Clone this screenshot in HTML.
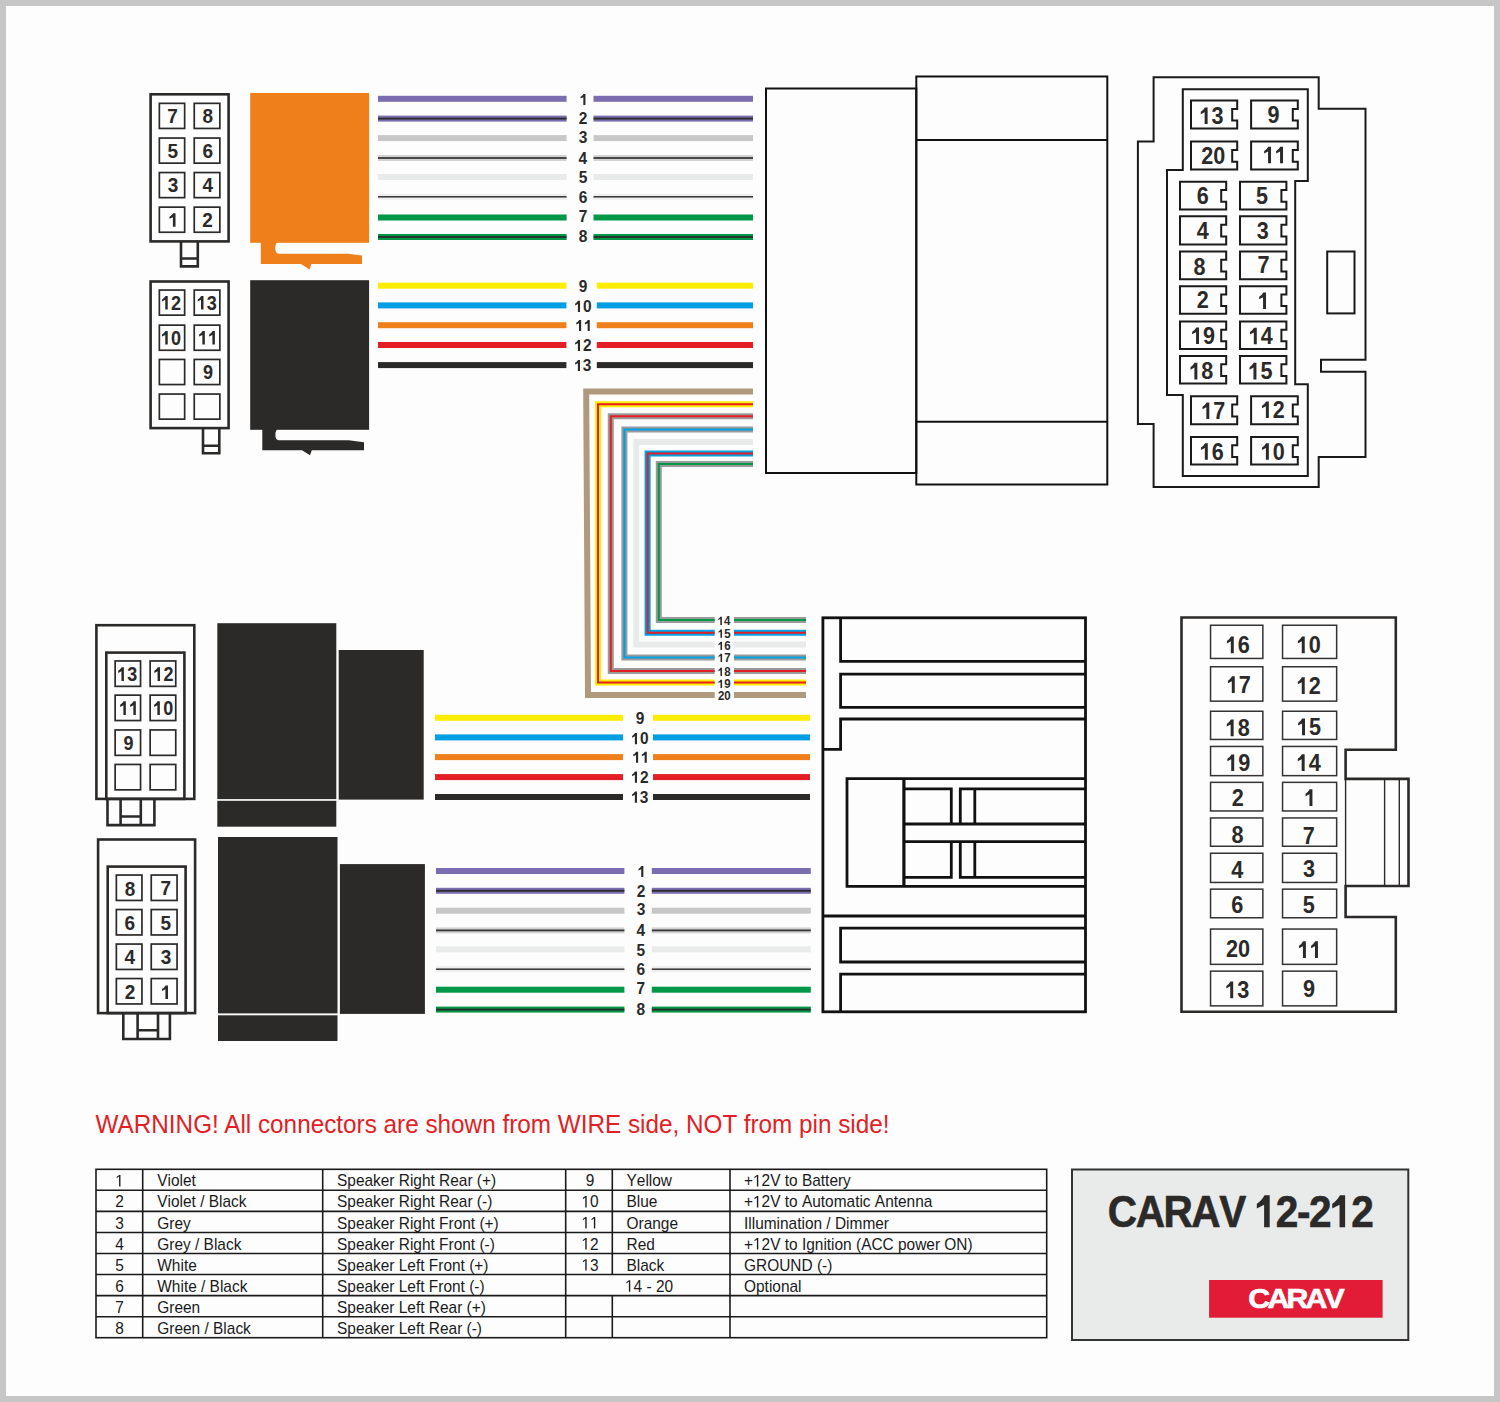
<!DOCTYPE html>
<html><head><meta charset="utf-8"><title>CARAV 12-212</title>
<style>html,body{margin:0;padding:0;background:#fff;}body{width:1500px;height:1402px;overflow:hidden;}</style>
</head><body>
<svg width="1500" height="1402" viewBox="0 0 1500 1402" style="display:block;font-family:'Liberation Sans', sans-serif">
<defs><path id="one" d="M478,0 L478,1040 L110,860 L110,1080 Q330,1190 500,1466 L759,1466 L759,0 Z"/><path id="one_b" d="M478,0 L478,1040 L110,860 L110,1080 Q330,1190 500,1466 L759,1466 L759,0 Z"/><path id="one_r" d="M515,0 V1287 L197,1051 V1228 L530,1466 H696 V0 Z"/></defs>
<rect x="0" y="0" width="1500" height="1402" fill="#c5c6c5"/>
<rect x="6" y="6" width="1488" height="1390" fill="#fdfdfd"/>
<rect x="150.60" y="94.30" width="78.00" height="147.10" fill="none" stroke="#2b2a29" stroke-width="2.6"/>
<rect x="159.35" y="103.35" width="25.30" height="25.10" fill="none" stroke="#2b2a29" stroke-width="1.7"/>
<rect x="194.25" y="103.35" width="25.60" height="25.10" fill="none" stroke="#2b2a29" stroke-width="1.7"/>
<rect x="159.35" y="138.05" width="25.30" height="25.10" fill="none" stroke="#2b2a29" stroke-width="1.7"/>
<rect x="194.25" y="138.05" width="25.60" height="25.10" fill="none" stroke="#2b2a29" stroke-width="1.7"/>
<rect x="159.35" y="172.55" width="25.30" height="25.10" fill="none" stroke="#2b2a29" stroke-width="1.7"/>
<rect x="194.25" y="172.55" width="25.60" height="25.10" fill="none" stroke="#2b2a29" stroke-width="1.7"/>
<rect x="159.35" y="207.15" width="25.30" height="25.10" fill="none" stroke="#2b2a29" stroke-width="1.7"/>
<rect x="194.25" y="207.15" width="25.60" height="25.10" fill="none" stroke="#2b2a29" stroke-width="1.7"/>
<text transform="translate(167.13,123.20) scale(1.000,1.0405)" font-size="19" font-weight="bold" fill="#2b2a29">7</text>
<text transform="translate(202.61,123.00) scale(1.000,1.0405)" font-size="19" font-weight="bold" fill="#2b2a29">8</text>
<text transform="translate(167.59,157.90) scale(1.000,1.0405)" font-size="19" font-weight="bold" fill="#2b2a29">5</text>
<text transform="translate(202.61,157.90) scale(1.000,1.0405)" font-size="19" font-weight="bold" fill="#2b2a29">6</text>
<text transform="translate(167.74,192.20) scale(1.000,1.0405)" font-size="19" font-weight="bold" fill="#2b2a29">3</text>
<text transform="translate(202.42,191.90) scale(1.000,1.0405)" font-size="19" font-weight="bold" fill="#2b2a29">4</text>
<use href="#one" transform="translate(168.47,226.80) scale(0.00928,-0.00928)" fill="#2b2a29"/>
<text transform="translate(202.37,226.80) scale(1.000,1.0405)" font-size="19" font-weight="bold" fill="#2b2a29">2</text>
<path d="M181,241.5 V266.4 H197.8 V241.5 M181,258.5 H197.8" fill="none" stroke="#2b2a29" stroke-width="2.6"/>
<rect x="150.60" y="281.50" width="78.00" height="146.60" fill="none" stroke="#2b2a29" stroke-width="2.6"/>
<rect x="159.35" y="290.05" width="25.30" height="25.10" fill="none" stroke="#2b2a29" stroke-width="1.7"/>
<rect x="194.25" y="290.05" width="25.60" height="25.10" fill="none" stroke="#2b2a29" stroke-width="1.7"/>
<rect x="159.35" y="325.15" width="25.30" height="25.10" fill="none" stroke="#2b2a29" stroke-width="1.7"/>
<rect x="194.25" y="325.15" width="25.60" height="25.10" fill="none" stroke="#2b2a29" stroke-width="1.7"/>
<rect x="159.35" y="359.45" width="25.30" height="25.10" fill="none" stroke="#2b2a29" stroke-width="1.7"/>
<rect x="194.25" y="359.45" width="25.60" height="25.10" fill="none" stroke="#2b2a29" stroke-width="1.7"/>
<rect x="159.35" y="394.05" width="25.30" height="25.10" fill="none" stroke="#2b2a29" stroke-width="1.7"/>
<rect x="194.25" y="394.05" width="25.60" height="25.10" fill="none" stroke="#2b2a29" stroke-width="1.7"/>
<use href="#one" transform="translate(161.04,309.50) scale(0.00881,-0.00928)" fill="#2b2a29"/>
<text transform="translate(171.08,309.50) scale(0.950,1.0405)" font-size="19" font-weight="bold" fill="#2b2a29">2</text>
<use href="#one" transform="translate(196.80,309.50) scale(0.00881,-0.00928)" fill="#2b2a29"/>
<text transform="translate(206.84,309.50) scale(0.950,1.0405)" font-size="19" font-weight="bold" fill="#2b2a29">3</text>
<use href="#one" transform="translate(161.05,344.60) scale(0.00881,-0.00928)" fill="#2b2a29"/>
<text transform="translate(171.09,344.60) scale(0.950,1.0405)" font-size="19" font-weight="bold" fill="#2b2a29">0</text>
<use href="#one" transform="translate(198.15,344.60) scale(0.00881,-0.00928)" fill="#2b2a29"/>
<use href="#one" transform="translate(208.19,344.60) scale(0.00881,-0.00928)" fill="#2b2a29"/>
<text transform="translate(203.00,378.80) scale(0.950,1.0405)" font-size="19" font-weight="bold" fill="#2b2a29">9</text>
<path d="M203,428.2 V453.2 H219.3 V428.2 M203,445.8 H219.3" fill="none" stroke="#2b2a29" stroke-width="2.6"/>
<rect x="96.40" y="625.20" width="97.90" height="173.70" fill="none" stroke="#2b2a29" stroke-width="2.6"/>
<rect x="106.30" y="652.60" width="78.10" height="146.30" fill="none" stroke="#2b2a29" stroke-width="2.6"/>
<rect x="115.15" y="660.95" width="25.40" height="25.40" fill="none" stroke="#2b2a29" stroke-width="1.7"/>
<rect x="150.15" y="660.95" width="25.60" height="25.40" fill="none" stroke="#2b2a29" stroke-width="1.7"/>
<rect x="115.15" y="695.15" width="25.40" height="25.40" fill="none" stroke="#2b2a29" stroke-width="1.7"/>
<rect x="150.15" y="695.15" width="25.60" height="25.40" fill="none" stroke="#2b2a29" stroke-width="1.7"/>
<rect x="115.15" y="729.95" width="25.40" height="25.40" fill="none" stroke="#2b2a29" stroke-width="1.7"/>
<rect x="150.15" y="729.95" width="25.60" height="25.40" fill="none" stroke="#2b2a29" stroke-width="1.7"/>
<rect x="115.15" y="764.45" width="25.40" height="25.40" fill="none" stroke="#2b2a29" stroke-width="1.7"/>
<rect x="150.15" y="764.45" width="25.60" height="25.40" fill="none" stroke="#2b2a29" stroke-width="1.7"/>
<use href="#one" transform="translate(117.26,681.00) scale(0.00876,-0.00942)" fill="#2b2a29"/>
<text transform="translate(127.24,681.00) scale(0.930,1.0405)" font-size="19.3" font-weight="bold" fill="#2b2a29">3</text>
<use href="#one" transform="translate(153.39,681.00) scale(0.00876,-0.00942)" fill="#2b2a29"/>
<text transform="translate(163.38,681.00) scale(0.930,1.0405)" font-size="19.3" font-weight="bold" fill="#2b2a29">2</text>
<use href="#one" transform="translate(119.20,715.00) scale(0.00876,-0.00942)" fill="#2b2a29"/>
<use href="#one" transform="translate(129.18,715.00) scale(0.00876,-0.00942)" fill="#2b2a29"/>
<use href="#one" transform="translate(153.20,715.00) scale(0.00876,-0.00942)" fill="#2b2a29"/>
<text transform="translate(163.19,715.00) scale(0.930,1.0405)" font-size="19.3" font-weight="bold" fill="#2b2a29">0</text>
<text transform="translate(123.53,750.00) scale(0.930,1.0405)" font-size="19.3" font-weight="bold" fill="#2b2a29">9</text>
<path d="M107.5,798.7 V825.1 H154.4 V798.7 M120.6,798.7 V825.1 M140.8,798.7 V825.1 M120.6,816.5 H140.8" fill="none" stroke="#2b2a29" stroke-width="2.6"/>
<rect x="98.10" y="839.50" width="97.00" height="173.60" fill="none" stroke="#2b2a29" stroke-width="2.6"/>
<rect x="107.70" y="866.60" width="77.90" height="146.50" fill="none" stroke="#2b2a29" stroke-width="2.6"/>
<rect x="116.35" y="875.05" width="25.60" height="25.40" fill="none" stroke="#2b2a29" stroke-width="1.7"/>
<rect x="151.25" y="875.05" width="25.80" height="25.40" fill="none" stroke="#2b2a29" stroke-width="1.7"/>
<rect x="116.35" y="909.55" width="25.60" height="25.40" fill="none" stroke="#2b2a29" stroke-width="1.7"/>
<rect x="151.25" y="909.55" width="25.80" height="25.40" fill="none" stroke="#2b2a29" stroke-width="1.7"/>
<rect x="116.35" y="944.05" width="25.60" height="25.40" fill="none" stroke="#2b2a29" stroke-width="1.7"/>
<rect x="151.25" y="944.05" width="25.80" height="25.40" fill="none" stroke="#2b2a29" stroke-width="1.7"/>
<rect x="116.35" y="978.55" width="25.60" height="25.40" fill="none" stroke="#2b2a29" stroke-width="1.7"/>
<rect x="151.25" y="978.55" width="25.80" height="25.40" fill="none" stroke="#2b2a29" stroke-width="1.7"/>
<text transform="translate(124.71,896.30) scale(1.000,1.0405)" font-size="19" font-weight="bold" fill="#2b2a29">8</text>
<text transform="translate(160.53,895.00) scale(1.000,1.0405)" font-size="19" font-weight="bold" fill="#2b2a29">7</text>
<text transform="translate(124.61,930.20) scale(1.000,1.0405)" font-size="19" font-weight="bold" fill="#2b2a29">6</text>
<text transform="translate(160.49,930.20) scale(1.000,1.0405)" font-size="19" font-weight="bold" fill="#2b2a29">5</text>
<text transform="translate(124.62,963.90) scale(1.000,1.0405)" font-size="19" font-weight="bold" fill="#2b2a29">4</text>
<text transform="translate(160.64,964.20) scale(1.000,1.0405)" font-size="19" font-weight="bold" fill="#2b2a29">3</text>
<text transform="translate(124.77,999.00) scale(1.000,1.0405)" font-size="19" font-weight="bold" fill="#2b2a29">2</text>
<use href="#one" transform="translate(160.97,999.00) scale(0.00928,-0.00928)" fill="#2b2a29"/>
<path d="M123.3,1013 V1039 H169.9 V1013 M137.6,1013 V1039 M158,1013 V1039 M137.6,1030.2 H158" fill="none" stroke="#2b2a29" stroke-width="2.6"/>
<rect x="250.2" y="93" width="118.9" height="149.8" fill="#ee7f1b"/>
<path d="M260.8,242 L277,242 Q274.5,246 275.5,250.5 Q276.5,253.8 279,253.8 L348,253.8 L362,255.6 L362,264 L311.3,264 L309.6,269.4 L301,264 L260.8,264 Z" fill="#ee7f1b"/>
<rect x="250.2" y="280.2" width="118.9" height="149.6" fill="#2b2a29"/>
<path d="M262.3,429 L277,429 Q274.5,433 275.5,437 Q276.5,440.2 279,440.2 L348.7,440.2 L364,442.2 L364,450.2 L311.8,450.2 L310,455.3 L302,450.2 L262.3,450.2 Z" fill="#2b2a29"/>
<rect x="217.3" y="623.2" width="119" height="175.9" fill="#2b2a29"/>
<rect x="217.3" y="800.8" width="119" height="25.9" fill="#2b2a29"/>
<rect x="338.7" y="650" width="85" height="149.6" fill="#2b2a29"/>
<rect x="218" y="837" width="119.5" height="176.4" fill="#2b2a29"/>
<rect x="218" y="1015.3" width="119.5" height="25.7" fill="#2b2a29"/>
<rect x="339.9" y="864.1" width="85" height="149.8" fill="#2b2a29"/>
<rect x="378.00" y="95.80" width="188.60" height="6" fill="#7a6eb0"/>
<rect x="593.50" y="95.80" width="159.50" height="6" fill="#7a6eb0"/>
<use href="#one" transform="translate(579.71,105.00) scale(0.00757,-0.00757)" fill="#2b2a29"/>
<rect x="378.00" y="115.60" width="188.60" height="6" fill="#7a6eb0"/>
<rect x="378.00" y="117.70" width="188.60" height="1.8" fill="#2b2a29"/>
<rect x="593.50" y="115.60" width="159.50" height="6" fill="#7a6eb0"/>
<rect x="593.50" y="117.70" width="159.50" height="1.8" fill="#2b2a29"/>
<text transform="translate(578.73,124.10) scale(1.000,1.0405)" font-size="15.5" font-weight="bold" fill="#2b2a29">2</text>
<rect x="378.00" y="135.10" width="188.60" height="6" fill="#c6c7c6"/>
<rect x="593.50" y="135.10" width="159.50" height="6" fill="#c6c7c6"/>
<text transform="translate(578.79,143.10) scale(1.000,1.0405)" font-size="15.5" font-weight="bold" fill="#2b2a29">3</text>
<rect x="378.00" y="155.00" width="188.60" height="6" fill="#d2d3d2"/>
<rect x="378.00" y="157.10" width="188.60" height="1.8" fill="#383838"/>
<rect x="593.50" y="155.00" width="159.50" height="6" fill="#d2d3d2"/>
<rect x="593.50" y="157.10" width="159.50" height="1.8" fill="#383838"/>
<text transform="translate(578.61,164.10) scale(1.000,1.0405)" font-size="15.5" font-weight="bold" fill="#2b2a29">4</text>
<rect x="378.00" y="174.00" width="188.60" height="6" fill="#e9eaea"/>
<rect x="593.50" y="174.00" width="159.50" height="6" fill="#e9eaea"/>
<text transform="translate(578.67,183.10) scale(1.000,1.0405)" font-size="15.5" font-weight="bold" fill="#2b2a29">5</text>
<rect x="378.00" y="193.80" width="188.60" height="6" fill="#eeeeee"/>
<rect x="378.00" y="196.05" width="188.60" height="1.5" fill="#333"/>
<rect x="593.50" y="193.80" width="159.50" height="6" fill="#eeeeee"/>
<rect x="593.50" y="196.05" width="159.50" height="1.5" fill="#333"/>
<text transform="translate(578.69,203.10) scale(1.000,1.0405)" font-size="15.5" font-weight="bold" fill="#2b2a29">6</text>
<rect x="378.00" y="214.50" width="188.60" height="6" fill="#009846"/>
<rect x="593.50" y="214.50" width="159.50" height="6" fill="#009846"/>
<text transform="translate(578.70,222.10) scale(1.000,1.0405)" font-size="15.5" font-weight="bold" fill="#2b2a29">7</text>
<rect x="378.00" y="234.00" width="188.60" height="6" fill="#009846"/>
<rect x="378.00" y="236.10" width="188.60" height="1.8" fill="#2b2a29"/>
<rect x="593.50" y="234.00" width="159.50" height="6" fill="#009846"/>
<rect x="593.50" y="236.10" width="159.50" height="1.8" fill="#2b2a29"/>
<text transform="translate(578.68,242.00) scale(1.000,1.0405)" font-size="15.5" font-weight="bold" fill="#2b2a29">8</text>
<rect x="378.00" y="282.70" width="188.40" height="6" fill="#ffed00"/>
<rect x="596.80" y="282.70" width="156.20" height="6" fill="#ffed00"/>
<text transform="translate(578.71,291.60) scale(1.000,1.0405)" font-size="15.5" font-weight="bold" fill="#2b2a29">9</text>
<rect x="378.00" y="302.40" width="188.40" height="6" fill="#009fe3"/>
<rect x="596.80" y="302.40" width="156.20" height="6" fill="#009fe3"/>
<use href="#one" transform="translate(574.28,311.90) scale(0.00757,-0.00757)" fill="#2b2a29"/>
<text transform="translate(582.90,311.90) scale(1.000,1.0405)" font-size="15.5" font-weight="bold" fill="#2b2a29">0</text>
<rect x="378.00" y="322.20" width="188.40" height="6" fill="#ef7f1a"/>
<rect x="596.80" y="322.20" width="156.20" height="6" fill="#ef7f1a"/>
<use href="#one" transform="translate(575.40,331.00) scale(0.00757,-0.00757)" fill="#2b2a29"/>
<use href="#one" transform="translate(584.02,331.00) scale(0.00757,-0.00757)" fill="#2b2a29"/>
<rect x="378.00" y="342.00" width="188.40" height="6" fill="#e31e24"/>
<rect x="596.80" y="342.00" width="156.20" height="6" fill="#e31e24"/>
<use href="#one" transform="translate(574.27,351.00) scale(0.00757,-0.00757)" fill="#2b2a29"/>
<text transform="translate(582.89,351.00) scale(1.000,1.0405)" font-size="15.5" font-weight="bold" fill="#2b2a29">2</text>
<rect x="378.00" y="362.10" width="188.40" height="6" fill="#2b2a29"/>
<rect x="596.80" y="362.10" width="156.20" height="6" fill="#2b2a29"/>
<use href="#one" transform="translate(574.24,371.00) scale(0.00757,-0.00757)" fill="#2b2a29"/>
<text transform="translate(582.86,371.00) scale(1.000,1.0405)" font-size="15.5" font-weight="bold" fill="#2b2a29">3</text>
<rect x="435.00" y="714.80" width="188.00" height="6" fill="#ffed00"/>
<rect x="653.00" y="714.80" width="157.00" height="6" fill="#ffed00"/>
<text transform="translate(635.71,724.20) scale(1.000,1.0405)" font-size="15.5" font-weight="bold" fill="#2b2a29">9</text>
<rect x="435.00" y="734.40" width="188.00" height="6" fill="#009fe3"/>
<rect x="653.00" y="734.40" width="157.00" height="6" fill="#009fe3"/>
<use href="#one" transform="translate(631.28,744.20) scale(0.00757,-0.00757)" fill="#2b2a29"/>
<text transform="translate(639.90,744.20) scale(1.000,1.0405)" font-size="15.5" font-weight="bold" fill="#2b2a29">0</text>
<rect x="435.00" y="754.10" width="188.00" height="6" fill="#ef7f1a"/>
<rect x="653.00" y="754.10" width="157.00" height="6" fill="#ef7f1a"/>
<use href="#one" transform="translate(632.40,762.80) scale(0.00757,-0.00757)" fill="#2b2a29"/>
<use href="#one" transform="translate(641.02,762.80) scale(0.00757,-0.00757)" fill="#2b2a29"/>
<rect x="435.00" y="774.10" width="188.00" height="6" fill="#e31e24"/>
<rect x="653.00" y="774.10" width="157.00" height="6" fill="#e31e24"/>
<use href="#one" transform="translate(631.27,782.70) scale(0.00757,-0.00757)" fill="#2b2a29"/>
<text transform="translate(639.89,782.70) scale(1.000,1.0405)" font-size="15.5" font-weight="bold" fill="#2b2a29">2</text>
<rect x="435.00" y="794.00" width="188.00" height="6" fill="#2b2a29"/>
<rect x="653.00" y="794.00" width="157.00" height="6" fill="#2b2a29"/>
<use href="#one" transform="translate(631.24,802.70) scale(0.00757,-0.00757)" fill="#2b2a29"/>
<text transform="translate(639.86,802.70) scale(1.000,1.0405)" font-size="15.5" font-weight="bold" fill="#2b2a29">3</text>
<rect x="436.00" y="868.00" width="188.40" height="6" fill="#7a6eb0"/>
<rect x="651.80" y="868.00" width="159.00" height="6" fill="#7a6eb0"/>
<use href="#one" transform="translate(637.61,877.10) scale(0.00757,-0.00757)" fill="#2b2a29"/>
<rect x="436.00" y="887.80" width="188.40" height="6" fill="#7a6eb0"/>
<rect x="436.00" y="889.90" width="188.40" height="1.8" fill="#2b2a29"/>
<rect x="651.80" y="887.80" width="159.00" height="6" fill="#7a6eb0"/>
<rect x="651.80" y="889.90" width="159.00" height="1.8" fill="#2b2a29"/>
<text transform="translate(636.63,897.10) scale(1.000,1.0405)" font-size="15.5" font-weight="bold" fill="#2b2a29">2</text>
<rect x="436.00" y="907.70" width="188.40" height="6" fill="#c6c7c6"/>
<rect x="651.80" y="907.70" width="159.00" height="6" fill="#c6c7c6"/>
<text transform="translate(636.69,915.30) scale(1.000,1.0405)" font-size="15.5" font-weight="bold" fill="#2b2a29">3</text>
<rect x="436.00" y="927.40" width="188.40" height="6" fill="#d2d3d2"/>
<rect x="436.00" y="929.50" width="188.40" height="1.8" fill="#383838"/>
<rect x="651.80" y="927.40" width="159.00" height="6" fill="#d2d3d2"/>
<rect x="651.80" y="929.50" width="159.00" height="1.8" fill="#383838"/>
<text transform="translate(636.51,936.00) scale(1.000,1.0405)" font-size="15.5" font-weight="bold" fill="#2b2a29">4</text>
<rect x="436.00" y="946.30" width="188.40" height="6" fill="#e9eaea"/>
<rect x="651.80" y="946.30" width="159.00" height="6" fill="#e9eaea"/>
<text transform="translate(636.57,955.90) scale(1.000,1.0405)" font-size="15.5" font-weight="bold" fill="#2b2a29">5</text>
<rect x="436.00" y="966.20" width="188.40" height="6" fill="#eeeeee"/>
<rect x="436.00" y="968.45" width="188.40" height="1.5" fill="#333"/>
<rect x="651.80" y="966.20" width="159.00" height="6" fill="#eeeeee"/>
<rect x="651.80" y="968.45" width="159.00" height="1.5" fill="#333"/>
<text transform="translate(636.59,974.80) scale(1.000,1.0405)" font-size="15.5" font-weight="bold" fill="#2b2a29">6</text>
<rect x="436.00" y="986.70" width="188.40" height="6" fill="#009846"/>
<rect x="651.80" y="986.70" width="159.00" height="6" fill="#009846"/>
<text transform="translate(636.60,994.30) scale(1.000,1.0405)" font-size="15.5" font-weight="bold" fill="#2b2a29">7</text>
<rect x="436.00" y="1006.60" width="188.40" height="6" fill="#009846"/>
<rect x="436.00" y="1008.70" width="188.40" height="1.8" fill="#2b2a29"/>
<rect x="651.80" y="1006.60" width="159.00" height="6" fill="#009846"/>
<rect x="651.80" y="1008.70" width="159.00" height="1.8" fill="#2b2a29"/>
<text transform="translate(636.58,1014.80) scale(1.000,1.0405)" font-size="15.5" font-weight="bold" fill="#2b2a29">8</text>
<path d="M753,391.6 H586.2 L588,695.0 H714.7" fill="none" stroke="#b09a7e" stroke-width="6" stroke-linejoin="miter" stroke-linecap="butt"/>
<line x1="734" y1="695.0" x2="806" y2="695.0" stroke="#b09a7e" stroke-width="6"/>
<text transform="translate(717.94,699.70) scale(1.000,1.0405)" font-size="11.5" font-weight="bold" fill="#2b2a29">2</text>
<text transform="translate(724.34,699.70) scale(1.000,1.0405)" font-size="11.5" font-weight="bold" fill="#2b2a29">0</text>
<path d="M753,404.2 H598.0 V682.6 H714.7" fill="none" stroke="#ffed00" stroke-width="6" stroke-linejoin="miter" stroke-linecap="butt"/>
<path d="M753,404.2 H598.0 V682.6 H714.7" fill="none" stroke="#e31e24" stroke-width="2" stroke-linejoin="miter"/>
<line x1="734" y1="682.6" x2="806" y2="682.6" stroke="#ffed00" stroke-width="6"/>
<line x1="734" y1="682.6" x2="806" y2="682.6" stroke="#e31e24" stroke-width="2"/>
<use href="#one" transform="translate(717.81,687.90) scale(0.00562,-0.00562)" fill="#2b2a29"/>
<text transform="translate(724.20,687.90) scale(1.000,1.0405)" font-size="11.5" font-weight="bold" fill="#2b2a29">9</text>
<path d="M753,416.3 H610.8 V671.0 H714.7" fill="none" stroke="#9a9a9a" stroke-width="6" stroke-linejoin="miter" stroke-linecap="butt"/>
<path d="M753,416.3 H610.8 V671.0 H714.7" fill="none" stroke="#e31e24" stroke-width="2" stroke-linejoin="miter"/>
<line x1="734" y1="671.0" x2="806" y2="671.0" stroke="#9a9a9a" stroke-width="6"/>
<line x1="734" y1="671.0" x2="806" y2="671.0" stroke="#e31e24" stroke-width="2"/>
<use href="#one" transform="translate(717.77,676.00) scale(0.00562,-0.00562)" fill="#2b2a29"/>
<text transform="translate(724.17,676.00) scale(1.000,1.0405)" font-size="11.5" font-weight="bold" fill="#2b2a29">8</text>
<path d="M753,429.6 H624.4 V657.5 H714.7" fill="none" stroke="#9a9a9a" stroke-width="6" stroke-linejoin="miter" stroke-linecap="butt"/>
<path d="M753,429.6 H624.4 V657.5 H714.7" fill="none" stroke="#009fe3" stroke-width="2" stroke-linejoin="miter"/>
<line x1="734" y1="657.5" x2="806" y2="657.5" stroke="#9a9a9a" stroke-width="6"/>
<line x1="734" y1="657.5" x2="806" y2="657.5" stroke="#009fe3" stroke-width="2"/>
<use href="#one" transform="translate(717.85,661.90) scale(0.00562,-0.00562)" fill="#2b2a29"/>
<text transform="translate(724.24,661.90) scale(1.000,1.0405)" font-size="11.5" font-weight="bold" fill="#2b2a29">7</text>
<path d="M753,442.1 H636.2 V644.5 H714.7" fill="none" stroke="#e9eaea" stroke-width="6" stroke-linejoin="miter" stroke-linecap="butt"/>
<line x1="734" y1="644.5" x2="806" y2="644.5" stroke="#e9eaea" stroke-width="6"/>
<use href="#one" transform="translate(717.80,650.00) scale(0.00562,-0.00562)" fill="#2b2a29"/>
<text transform="translate(724.20,650.00) scale(1.000,1.0405)" font-size="11.5" font-weight="bold" fill="#2b2a29">6</text>
<path d="M753,453.6 H647.6 V632.8 H714.7" fill="none" stroke="#009fe3" stroke-width="6" stroke-linejoin="miter" stroke-linecap="butt"/>
<path d="M753,453.6 H647.6 V632.8 H714.7" fill="none" stroke="#e31e24" stroke-width="2" stroke-linejoin="miter"/>
<line x1="734" y1="632.8" x2="806" y2="632.8" stroke="#009fe3" stroke-width="6"/>
<line x1="734" y1="632.8" x2="806" y2="632.8" stroke="#e31e24" stroke-width="2"/>
<use href="#one" transform="translate(717.76,637.70) scale(0.00562,-0.00562)" fill="#2b2a29"/>
<text transform="translate(724.15,637.70) scale(1.000,1.0405)" font-size="11.5" font-weight="bold" fill="#2b2a29">5</text>
<path d="M753,464.0 H658.8 V620.0 H714.7" fill="none" stroke="#9a9a9a" stroke-width="6" stroke-linejoin="miter" stroke-linecap="butt"/>
<path d="M753,464.0 H658.8 V620.0 H714.7" fill="none" stroke="#009846" stroke-width="2" stroke-linejoin="miter"/>
<line x1="734" y1="620.0" x2="806" y2="620.0" stroke="#9a9a9a" stroke-width="6"/>
<line x1="734" y1="620.0" x2="806" y2="620.0" stroke="#009846" stroke-width="2"/>
<use href="#one" transform="translate(717.63,624.90) scale(0.00562,-0.00562)" fill="#2b2a29"/>
<text transform="translate(724.02,624.90) scale(1.000,1.0405)" font-size="11.5" font-weight="bold" fill="#2b2a29">4</text>
<g fill="none" stroke="#111" stroke-width="2">
<rect x="766" y="88.5" width="150.3" height="384.5"/>
<rect x="916.3" y="76.5" width="191" height="408"/>
<line x1="916.3" y1="140" x2="1107.3" y2="140"/><line x1="916.3" y1="421.8" x2="1107.3" y2="421.8"/>
</g>
<g fill="none" stroke="#1a1a1a" stroke-width="2">
<path d="M1153.6,77.3 H1318.7 V108.7 H1365.5 V359.8 H1321 V371.8 H1365.5 V457 H1318.7 V487 H1153.6 V424 H1137.9 V141.6 H1153.6 Z"/>
<path d="M1182.8,89.2 H1307.8 V180.9 H1295.2 V384.3 H1307.8 V476 H1182.8 V395 H1167 V169.9 H1182.8 Z"/>
<rect x="1327.2" y="251.5" width="27.3" height="61.9"/>
</g>
<path d="M1191.0,100.5 H1237.2 V108.9 H1232.2 V120.6 H1237.2 V128.4 H1191.0 Z" fill="none" stroke="#1a1a1a" stroke-width="2"/>
<path d="M1251.1,100.5 H1297.8 V108.9 H1292.8 V120.6 H1297.8 V128.4 H1251.1 Z" fill="none" stroke="#1a1a1a" stroke-width="2"/>
<path d="M1191.0,141.5 H1237.2 V149.9 H1232.2 V161.7 H1237.2 V169.5 H1191.0 Z" fill="none" stroke="#1a1a1a" stroke-width="2"/>
<path d="M1251.1,141.5 H1297.8 V149.9 H1292.8 V161.7 H1297.8 V169.5 H1251.1 Z" fill="none" stroke="#1a1a1a" stroke-width="2"/>
<path d="M1180.0,181.7 H1226.2 V190.0 H1221.2 V201.7 H1226.2 V209.5 H1180.0 Z" fill="none" stroke="#1a1a1a" stroke-width="2"/>
<path d="M1240.0,181.7 H1286.4 V190.0 H1281.4 V201.7 H1286.4 V209.5 H1240.0 Z" fill="none" stroke="#1a1a1a" stroke-width="2"/>
<path d="M1180.0,216.2 H1226.2 V224.7 H1221.2 V236.6 H1226.2 V244.5 H1180.0 Z" fill="none" stroke="#1a1a1a" stroke-width="2"/>
<path d="M1240.0,216.2 H1286.4 V224.7 H1281.4 V236.6 H1286.4 V244.5 H1240.0 Z" fill="none" stroke="#1a1a1a" stroke-width="2"/>
<path d="M1180.0,251.4 H1226.2 V259.7 H1221.2 V271.4 H1226.2 V279.2 H1180.0 Z" fill="none" stroke="#1a1a1a" stroke-width="2"/>
<path d="M1240.0,251.4 H1286.4 V259.7 H1281.4 V271.4 H1286.4 V279.2 H1240.0 Z" fill="none" stroke="#1a1a1a" stroke-width="2"/>
<path d="M1180.0,286.2 H1226.2 V294.5 H1221.2 V306.1 H1226.2 V313.8 H1180.0 Z" fill="none" stroke="#1a1a1a" stroke-width="2"/>
<path d="M1240.0,286.2 H1286.4 V294.5 H1281.4 V306.1 H1286.4 V313.8 H1240.0 Z" fill="none" stroke="#1a1a1a" stroke-width="2"/>
<path d="M1180.0,321.4 H1226.2 V329.7 H1221.2 V341.3 H1226.2 V349.0 H1180.0 Z" fill="none" stroke="#1a1a1a" stroke-width="2"/>
<path d="M1240.0,321.4 H1286.4 V329.7 H1281.4 V341.3 H1286.4 V349.0 H1240.0 Z" fill="none" stroke="#1a1a1a" stroke-width="2"/>
<path d="M1180.0,356.0 H1226.2 V364.3 H1221.2 V375.9 H1226.2 V383.6 H1180.0 Z" fill="none" stroke="#1a1a1a" stroke-width="2"/>
<path d="M1240.0,356.0 H1286.4 V364.3 H1281.4 V375.9 H1286.4 V383.6 H1240.0 Z" fill="none" stroke="#1a1a1a" stroke-width="2"/>
<path d="M1191.0,396.2 H1237.2 V404.6 H1232.2 V416.4 H1237.2 V424.2 H1191.0 Z" fill="none" stroke="#1a1a1a" stroke-width="2"/>
<path d="M1251.1,396.2 H1297.8 V404.6 H1292.8 V416.4 H1297.8 V424.2 H1251.1 Z" fill="none" stroke="#1a1a1a" stroke-width="2"/>
<path d="M1191.0,437.0 H1237.2 V445.3 H1232.2 V456.9 H1237.2 V464.6 H1191.0 Z" fill="none" stroke="#1a1a1a" stroke-width="2"/>
<path d="M1251.1,437.0 H1297.8 V445.3 H1292.8 V456.9 H1297.8 V464.6 H1251.1 Z" fill="none" stroke="#1a1a1a" stroke-width="2"/>
<use href="#one" transform="translate(1199.61,124.00) scale(0.01054,-0.01133)" fill="#2b2a29"/>
<text transform="translate(1211.61,124.00) scale(0.930,1.0405)" font-size="23.2" font-weight="bold" fill="#2b2a29">3</text>
<text transform="translate(1267.43,122.90) scale(0.930,1.0405)" font-size="23.2" font-weight="bold" fill="#2b2a29">9</text>
<text transform="translate(1201.27,164.00) scale(0.930,1.0405)" font-size="23.2" font-weight="bold" fill="#2b2a29">2</text>
<text transform="translate(1213.27,164.00) scale(0.930,1.0405)" font-size="23.2" font-weight="bold" fill="#2b2a29">0</text>
<use href="#one" transform="translate(1263.02,163.30) scale(0.01054,-0.01133)" fill="#2b2a29"/>
<use href="#one" transform="translate(1275.02,163.30) scale(0.01054,-0.01133)" fill="#2b2a29"/>
<text transform="translate(1196.79,204.00) scale(0.930,1.0405)" font-size="23.2" font-weight="bold" fill="#2b2a29">6</text>
<text transform="translate(1255.97,204.00) scale(0.930,1.0405)" font-size="23.2" font-weight="bold" fill="#2b2a29">5</text>
<text transform="translate(1196.69,239.10) scale(0.930,1.0405)" font-size="23.2" font-weight="bold" fill="#2b2a29">4</text>
<text transform="translate(1256.64,238.90) scale(0.930,1.0405)" font-size="23.2" font-weight="bold" fill="#2b2a29">3</text>
<text transform="translate(1193.39,274.70) scale(0.930,1.0405)" font-size="23.2" font-weight="bold" fill="#2b2a29">8</text>
<text transform="translate(1257.51,272.80) scale(0.930,1.0405)" font-size="23.2" font-weight="bold" fill="#2b2a29">7</text>
<text transform="translate(1196.66,308.20) scale(0.930,1.0405)" font-size="23.2" font-weight="bold" fill="#2b2a29">2</text>
<use href="#one" transform="translate(1258.02,309.00) scale(0.01054,-0.01133)" fill="#2b2a29"/>
<use href="#one" transform="translate(1191.02,344.10) scale(0.01054,-0.01133)" fill="#2b2a29"/>
<text transform="translate(1203.02,344.10) scale(0.930,1.0405)" font-size="23.2" font-weight="bold" fill="#2b2a29">9</text>
<use href="#one" transform="translate(1248.78,344.30) scale(0.01054,-0.01133)" fill="#2b2a29"/>
<text transform="translate(1260.78,344.30) scale(0.930,1.0405)" font-size="23.2" font-weight="bold" fill="#2b2a29">4</text>
<use href="#one" transform="translate(1189.35,379.40) scale(0.01054,-0.01133)" fill="#2b2a29"/>
<text transform="translate(1201.35,379.40) scale(0.930,1.0405)" font-size="23.2" font-weight="bold" fill="#2b2a29">8</text>
<use href="#one" transform="translate(1248.42,379.40) scale(0.01054,-0.01133)" fill="#2b2a29"/>
<text transform="translate(1260.42,379.40) scale(0.930,1.0405)" font-size="23.2" font-weight="bold" fill="#2b2a29">5</text>
<use href="#one" transform="translate(1201.30,419.00) scale(0.01054,-0.01133)" fill="#2b2a29"/>
<text transform="translate(1213.29,419.00) scale(0.930,1.0405)" font-size="23.2" font-weight="bold" fill="#2b2a29">7</text>
<use href="#one" transform="translate(1260.85,418.10) scale(0.01054,-0.01133)" fill="#2b2a29"/>
<text transform="translate(1272.85,418.10) scale(0.930,1.0405)" font-size="23.2" font-weight="bold" fill="#2b2a29">2</text>
<use href="#one" transform="translate(1199.81,459.80) scale(0.01054,-0.01133)" fill="#2b2a29"/>
<text transform="translate(1211.81,459.80) scale(0.930,1.0405)" font-size="23.2" font-weight="bold" fill="#2b2a29">6</text>
<use href="#one" transform="translate(1260.86,459.80) scale(0.01054,-0.01133)" fill="#2b2a29"/>
<text transform="translate(1272.86,459.80) scale(0.930,1.0405)" font-size="23.2" font-weight="bold" fill="#2b2a29">0</text>
<g fill="none" stroke="#111" stroke-width="2.8">
<rect x="822.9" y="617.8" width="262.6" height="394"/>
<path d="M840.6,617.8 V661.3 H1085.5"/>
<path d="M1085.5,674.2 H840.6 V707.4 H1085.5"/>
<path d="M1085.5,719 H840.6 V749.4 H822.9"/>
<path d="M1085.5,778.7 H847 V886.4 H1085.5"/>
<line x1="903.9" y1="778.7" x2="903.9" y2="886.4" stroke-width="3.2"/>
<path d="M903.9,788.9 H951.3 V823.5 M960.3,823.5 V788.9 H1085.5 M974.8,788.9 V823.5" />
<line x1="903.9" y1="824" x2="1085.5" y2="824"/><line x1="903.9" y1="841.6" x2="1085.5" y2="841.6"/>
<path d="M951.3,841.6 V877.3 H903.9 M960.3,841.6 V877.3 H1085.5 M974.8,841.6 V877.3"/>
<line x1="822.9" y1="916" x2="1085.5" y2="916"/>
<path d="M1085.5,928.2 H840.6 V962 H1085.5"/>
<path d="M1085.5,974.2 H840.6 V1011.8"/>
</g>
<g fill="none" stroke="#2b2a29" stroke-width="2.6">
<path d="M1181.5,617.5 H1395.8 V749.7 H1345.6 V778.9 H1408.5 V886 H1345.6 V917 H1395.8 V1011.8 H1181.5 Z"/>
<path d="M1345.6,778.9 V886 M1384.6,778.9 V886 M1399.3,778.9 V886" stroke-width="1.4"/>
</g>
<rect x="1210.55" y="625.25" width="52.30" height="33.20" fill="none" stroke="#333" stroke-width="1.5"/>
<rect x="1282.55" y="625.25" width="54.10" height="33.20" fill="none" stroke="#333" stroke-width="1.5"/>
<rect x="1210.55" y="666.75" width="52.30" height="34.40" fill="none" stroke="#333" stroke-width="1.5"/>
<rect x="1282.55" y="666.75" width="54.10" height="34.40" fill="none" stroke="#333" stroke-width="1.5"/>
<rect x="1210.55" y="711.25" width="52.30" height="28.20" fill="none" stroke="#333" stroke-width="1.5"/>
<rect x="1282.55" y="711.25" width="54.10" height="28.20" fill="none" stroke="#333" stroke-width="1.5"/>
<rect x="1210.55" y="746.45" width="52.30" height="29.20" fill="none" stroke="#333" stroke-width="1.5"/>
<rect x="1282.55" y="746.45" width="54.10" height="29.20" fill="none" stroke="#333" stroke-width="1.5"/>
<rect x="1210.55" y="782.35" width="52.30" height="28.60" fill="none" stroke="#333" stroke-width="1.5"/>
<rect x="1282.55" y="782.35" width="54.10" height="28.60" fill="none" stroke="#333" stroke-width="1.5"/>
<rect x="1210.55" y="817.95" width="52.30" height="28.30" fill="none" stroke="#333" stroke-width="1.5"/>
<rect x="1282.55" y="817.95" width="54.10" height="28.30" fill="none" stroke="#333" stroke-width="1.5"/>
<rect x="1210.55" y="853.25" width="52.30" height="29.20" fill="none" stroke="#333" stroke-width="1.5"/>
<rect x="1282.55" y="853.25" width="54.10" height="29.20" fill="none" stroke="#333" stroke-width="1.5"/>
<rect x="1210.55" y="889.15" width="52.30" height="28.60" fill="none" stroke="#333" stroke-width="1.5"/>
<rect x="1282.55" y="889.15" width="54.10" height="28.60" fill="none" stroke="#333" stroke-width="1.5"/>
<rect x="1210.55" y="929.05" width="52.30" height="35.30" fill="none" stroke="#333" stroke-width="1.5"/>
<rect x="1282.55" y="929.05" width="54.10" height="35.30" fill="none" stroke="#333" stroke-width="1.5"/>
<rect x="1210.55" y="971.15" width="52.30" height="34.70" fill="none" stroke="#333" stroke-width="1.5"/>
<rect x="1282.55" y="971.15" width="54.10" height="34.70" fill="none" stroke="#333" stroke-width="1.5"/>
<use href="#one" transform="translate(1225.76,653.20) scale(0.01058,-0.01138)" fill="#2b2a29"/>
<text transform="translate(1237.81,653.20) scale(0.930,1.0405)" font-size="23.3" font-weight="bold" fill="#2b2a29">6</text>
<use href="#one" transform="translate(1296.71,653.20) scale(0.01058,-0.01138)" fill="#2b2a29"/>
<text transform="translate(1308.76,653.20) scale(0.930,1.0405)" font-size="23.3" font-weight="bold" fill="#2b2a29">0</text>
<use href="#one" transform="translate(1226.74,693.00) scale(0.01058,-0.01138)" fill="#2b2a29"/>
<text transform="translate(1238.79,693.00) scale(0.930,1.0405)" font-size="23.3" font-weight="bold" fill="#2b2a29">7</text>
<use href="#one" transform="translate(1296.70,694.00) scale(0.01058,-0.01138)" fill="#2b2a29"/>
<text transform="translate(1308.75,694.00) scale(0.930,1.0405)" font-size="23.3" font-weight="bold" fill="#2b2a29">2</text>
<use href="#one" transform="translate(1225.60,736.30) scale(0.01058,-0.01138)" fill="#2b2a29"/>
<text transform="translate(1237.65,736.30) scale(0.930,1.0405)" font-size="23.3" font-weight="bold" fill="#2b2a29">8</text>
<use href="#one" transform="translate(1296.97,735.30) scale(0.01058,-0.01138)" fill="#2b2a29"/>
<text transform="translate(1309.02,735.30) scale(0.930,1.0405)" font-size="23.3" font-weight="bold" fill="#2b2a29">5</text>
<use href="#one" transform="translate(1226.17,771.10) scale(0.01058,-0.01138)" fill="#2b2a29"/>
<text transform="translate(1238.22,771.10) scale(0.930,1.0405)" font-size="23.3" font-weight="bold" fill="#2b2a29">9</text>
<use href="#one" transform="translate(1296.62,771.00) scale(0.01058,-0.01138)" fill="#2b2a29"/>
<text transform="translate(1308.68,771.00) scale(0.930,1.0405)" font-size="23.3" font-weight="bold" fill="#2b2a29">4</text>
<text transform="translate(1231.73,806.20) scale(0.930,1.0405)" font-size="23.3" font-weight="bold" fill="#2b2a29">2</text>
<use href="#one" transform="translate(1304.40,806.00) scale(0.01058,-0.01138)" fill="#2b2a29"/>
<text transform="translate(1231.46,843.10) scale(0.930,1.0405)" font-size="23.3" font-weight="bold" fill="#2b2a29">8</text>
<text transform="translate(1302.68,844.00) scale(0.930,1.0405)" font-size="23.3" font-weight="bold" fill="#2b2a29">7</text>
<text transform="translate(1231.17,878.00) scale(0.930,1.0405)" font-size="23.3" font-weight="bold" fill="#2b2a29">4</text>
<text transform="translate(1303.02,876.90) scale(0.930,1.0405)" font-size="23.3" font-weight="bold" fill="#2b2a29">3</text>
<text transform="translate(1231.37,912.90) scale(0.930,1.0405)" font-size="23.3" font-weight="bold" fill="#2b2a29">6</text>
<text transform="translate(1302.84,912.90) scale(0.930,1.0405)" font-size="23.3" font-weight="bold" fill="#2b2a29">5</text>
<text transform="translate(1225.92,957.00) scale(0.930,1.0405)" font-size="23.3" font-weight="bold" fill="#2b2a29">2</text>
<text transform="translate(1237.97,957.00) scale(0.930,1.0405)" font-size="23.3" font-weight="bold" fill="#2b2a29">0</text>
<use href="#one" transform="translate(1297.88,958.00) scale(0.01058,-0.01138)" fill="#2b2a29"/>
<use href="#one" transform="translate(1309.93,958.00) scale(0.01058,-0.01138)" fill="#2b2a29"/>
<use href="#one" transform="translate(1225.16,998.20) scale(0.01058,-0.01138)" fill="#2b2a29"/>
<text transform="translate(1237.21,998.20) scale(0.930,1.0405)" font-size="23.3" font-weight="bold" fill="#2b2a29">3</text>
<text transform="translate(1302.90,997.00) scale(0.930,1.0405)" font-size="23.3" font-weight="bold" fill="#2b2a29">9</text>
<text x="95.5" y="1132.6" font-size="25" fill="#e31e24" textLength="794" lengthAdjust="spacingAndGlyphs">WARNING! All connectors are shown from WIRE side, NOT from pin side!</text>
<g stroke="#1a1a1a" stroke-width="1.6" fill="none">
<rect x="96.0" y="1169.3" width="950.7" height="168.4"/>
<line x1="96.0" y1="1190.3" x2="1046.7" y2="1190.3"/>
<line x1="96.0" y1="1211.4" x2="1046.7" y2="1211.4"/>
<line x1="96.0" y1="1232.5" x2="1046.7" y2="1232.5"/>
<line x1="96.0" y1="1253.5" x2="1046.7" y2="1253.5"/>
<line x1="96.0" y1="1274.5" x2="1046.7" y2="1274.5"/>
<line x1="96.0" y1="1295.6" x2="1046.7" y2="1295.6"/>
<line x1="96.0" y1="1316.7" x2="1046.7" y2="1316.7"/>
<line x1="142.7" y1="1169.3" x2="142.7" y2="1337.7"/>
<line x1="322.7" y1="1169.3" x2="322.7" y2="1337.7"/>
<line x1="565.7" y1="1169.3" x2="565.7" y2="1337.7"/>
<line x1="730.0" y1="1169.3" x2="730.0" y2="1337.7"/>
<line x1="612.3" y1="1169.3" x2="612.3" y2="1274.5"/>
<line x1="612.3" y1="1295.6" x2="612.3" y2="1337.7"/>
</g>
<use href="#one_r" transform="translate(115.21,1186.40) scale(0.00754,-0.00781)" fill="#1a1a1a" />
<text transform="translate(157.30,1186.40) scale(0.9650,1)" font-size="16" font-weight="normal" fill="#1a1a1a" style="font-kerning:none;white-space:pre" xml:space="preserve" >Violet</text>
<text transform="translate(337.00,1186.40) scale(0.9650,1)" font-size="16" font-weight="normal" fill="#1a1a1a" style="font-kerning:none;white-space:pre" xml:space="preserve" >Speaker Right Rear (+)</text>
<text transform="translate(115.21,1207.45) scale(0.9650,1)" font-size="16" font-weight="normal" fill="#1a1a1a" style="font-kerning:none;white-space:pre" xml:space="preserve" >2</text>
<text transform="translate(157.30,1207.45) scale(0.9650,1)" font-size="16" font-weight="normal" fill="#1a1a1a" style="font-kerning:none;white-space:pre" xml:space="preserve" >Violet / Black</text>
<text transform="translate(337.00,1207.45) scale(0.9650,1)" font-size="16" font-weight="normal" fill="#1a1a1a" style="font-kerning:none;white-space:pre" xml:space="preserve" >Speaker Right Rear (-)</text>
<text transform="translate(115.21,1228.50) scale(0.9650,1)" font-size="16" font-weight="normal" fill="#1a1a1a" style="font-kerning:none;white-space:pre" xml:space="preserve" >3</text>
<text transform="translate(157.30,1228.50) scale(0.9650,1)" font-size="16" font-weight="normal" fill="#1a1a1a" style="font-kerning:none;white-space:pre" xml:space="preserve" >Grey</text>
<text transform="translate(337.00,1228.50) scale(0.9650,1)" font-size="16" font-weight="normal" fill="#1a1a1a" style="font-kerning:none;white-space:pre" xml:space="preserve" >Speaker Right Front (+)</text>
<text transform="translate(115.21,1249.55) scale(0.9650,1)" font-size="16" font-weight="normal" fill="#1a1a1a" style="font-kerning:none;white-space:pre" xml:space="preserve" >4</text>
<text transform="translate(157.30,1249.55) scale(0.9650,1)" font-size="16" font-weight="normal" fill="#1a1a1a" style="font-kerning:none;white-space:pre" xml:space="preserve" >Grey / Black</text>
<text transform="translate(337.00,1249.55) scale(0.9650,1)" font-size="16" font-weight="normal" fill="#1a1a1a" style="font-kerning:none;white-space:pre" xml:space="preserve" >Speaker Right Front (-)</text>
<text transform="translate(115.21,1270.60) scale(0.9650,1)" font-size="16" font-weight="normal" fill="#1a1a1a" style="font-kerning:none;white-space:pre" xml:space="preserve" >5</text>
<text transform="translate(157.30,1270.60) scale(0.9650,1)" font-size="16" font-weight="normal" fill="#1a1a1a" style="font-kerning:none;white-space:pre" xml:space="preserve" >White</text>
<text transform="translate(337.00,1270.60) scale(0.9650,1)" font-size="16" font-weight="normal" fill="#1a1a1a" style="font-kerning:none;white-space:pre" xml:space="preserve" >Speaker Left Front (+)</text>
<text transform="translate(115.21,1291.65) scale(0.9650,1)" font-size="16" font-weight="normal" fill="#1a1a1a" style="font-kerning:none;white-space:pre" xml:space="preserve" >6</text>
<text transform="translate(157.30,1291.65) scale(0.9650,1)" font-size="16" font-weight="normal" fill="#1a1a1a" style="font-kerning:none;white-space:pre" xml:space="preserve" >White / Black</text>
<text transform="translate(337.00,1291.65) scale(0.9650,1)" font-size="16" font-weight="normal" fill="#1a1a1a" style="font-kerning:none;white-space:pre" xml:space="preserve" >Speaker Left Front (-)</text>
<text transform="translate(115.21,1312.70) scale(0.9650,1)" font-size="16" font-weight="normal" fill="#1a1a1a" style="font-kerning:none;white-space:pre" xml:space="preserve" >7</text>
<text transform="translate(157.30,1312.70) scale(0.9650,1)" font-size="16" font-weight="normal" fill="#1a1a1a" style="font-kerning:none;white-space:pre" xml:space="preserve" >Green</text>
<text transform="translate(337.00,1312.70) scale(0.9650,1)" font-size="16" font-weight="normal" fill="#1a1a1a" style="font-kerning:none;white-space:pre" xml:space="preserve" >Speaker Left Rear (+)</text>
<text transform="translate(115.21,1333.75) scale(0.9650,1)" font-size="16" font-weight="normal" fill="#1a1a1a" style="font-kerning:none;white-space:pre" xml:space="preserve" >8</text>
<text transform="translate(157.30,1333.75) scale(0.9650,1)" font-size="16" font-weight="normal" fill="#1a1a1a" style="font-kerning:none;white-space:pre" xml:space="preserve" >Green / Black</text>
<text transform="translate(337.00,1333.75) scale(0.9650,1)" font-size="16" font-weight="normal" fill="#1a1a1a" style="font-kerning:none;white-space:pre" xml:space="preserve" >Speaker Left Rear (-)</text>
<text transform="translate(585.71,1186.40) scale(0.9650,1)" font-size="16" font-weight="normal" fill="#1a1a1a" style="font-kerning:none;white-space:pre" xml:space="preserve" >9</text>
<text transform="translate(626.50,1186.40) scale(0.9650,1)" font-size="16" font-weight="normal" fill="#1a1a1a" style="font-kerning:none;white-space:pre" xml:space="preserve" >Yellow</text>
<text transform="translate(744.00,1186.40) scale(0.9650,1)" font-size="16" font-weight="normal" fill="#1a1a1a" style="font-kerning:none;white-space:pre" xml:space="preserve" >+</text>
<use href="#one_r" transform="translate(753.02,1186.40) scale(0.00754,-0.00781)" fill="#1a1a1a" />
<text transform="translate(761.60,1186.40) scale(0.9650,1)" font-size="16" font-weight="normal" fill="#1a1a1a" style="font-kerning:none;white-space:pre" xml:space="preserve" >2V to Battery</text>
<use href="#one_r" transform="translate(581.41,1207.45) scale(0.00754,-0.00781)" fill="#1a1a1a" />
<text transform="translate(590.00,1207.45) scale(0.9650,1)" font-size="16" font-weight="normal" fill="#1a1a1a" style="font-kerning:none;white-space:pre" xml:space="preserve" >0</text>
<text transform="translate(626.50,1207.45) scale(0.9650,1)" font-size="16" font-weight="normal" fill="#1a1a1a" style="font-kerning:none;white-space:pre" xml:space="preserve" >Blue</text>
<text transform="translate(744.00,1207.45) scale(0.9650,1)" font-size="16" font-weight="normal" fill="#1a1a1a" style="font-kerning:none;white-space:pre" xml:space="preserve" >+</text>
<use href="#one_r" transform="translate(753.02,1207.45) scale(0.00754,-0.00781)" fill="#1a1a1a" />
<text transform="translate(761.60,1207.45) scale(0.9650,1)" font-size="16" font-weight="normal" fill="#1a1a1a" style="font-kerning:none;white-space:pre" xml:space="preserve" >2V to Automatic Antenna</text>
<use href="#one_r" transform="translate(581.41,1228.50) scale(0.00754,-0.00781)" fill="#1a1a1a" />
<use href="#one_r" transform="translate(590.00,1228.50) scale(0.00754,-0.00781)" fill="#1a1a1a" />
<text transform="translate(626.50,1228.50) scale(0.9650,1)" font-size="16" font-weight="normal" fill="#1a1a1a" style="font-kerning:none;white-space:pre" xml:space="preserve" >Orange</text>
<text transform="translate(744.00,1228.50) scale(0.9650,1)" font-size="16" font-weight="normal" fill="#1a1a1a" style="font-kerning:none;white-space:pre" xml:space="preserve" >Illumination / Dimmer</text>
<use href="#one_r" transform="translate(581.41,1249.55) scale(0.00754,-0.00781)" fill="#1a1a1a" />
<text transform="translate(590.00,1249.55) scale(0.9650,1)" font-size="16" font-weight="normal" fill="#1a1a1a" style="font-kerning:none;white-space:pre" xml:space="preserve" >2</text>
<text transform="translate(626.50,1249.55) scale(0.9650,1)" font-size="16" font-weight="normal" fill="#1a1a1a" style="font-kerning:none;white-space:pre" xml:space="preserve" >Red</text>
<text transform="translate(744.00,1249.55) scale(0.9650,1)" font-size="16" font-weight="normal" fill="#1a1a1a" style="font-kerning:none;white-space:pre" xml:space="preserve" >+</text>
<use href="#one_r" transform="translate(753.02,1249.55) scale(0.00754,-0.00781)" fill="#1a1a1a" />
<text transform="translate(761.60,1249.55) scale(0.9650,1)" font-size="16" font-weight="normal" fill="#1a1a1a" style="font-kerning:none;white-space:pre" xml:space="preserve" >2V to Ignition (ACC power ON)</text>
<use href="#one_r" transform="translate(581.41,1270.60) scale(0.00754,-0.00781)" fill="#1a1a1a" />
<text transform="translate(590.00,1270.60) scale(0.9650,1)" font-size="16" font-weight="normal" fill="#1a1a1a" style="font-kerning:none;white-space:pre" xml:space="preserve" >3</text>
<text transform="translate(626.50,1270.60) scale(0.9650,1)" font-size="16" font-weight="normal" fill="#1a1a1a" style="font-kerning:none;white-space:pre" xml:space="preserve" >Black</text>
<text transform="translate(744.00,1270.60) scale(0.9650,1)" font-size="16" font-weight="normal" fill="#1a1a1a" style="font-kerning:none;white-space:pre" xml:space="preserve" >GROUND (-)</text>
<use href="#one_r" transform="translate(625.00,1291.65) scale(0.00754,-0.00781)" fill="#1a1a1a" />
<text transform="translate(633.59,1291.65) scale(0.9650,1)" font-size="16" font-weight="normal" fill="#1a1a1a" style="font-kerning:none;white-space:pre" xml:space="preserve" >4 - 20</text>
<text transform="translate(744.00,1291.65) scale(0.9650,1)" font-size="16" font-weight="normal" fill="#1a1a1a" style="font-kerning:none;white-space:pre" xml:space="preserve" >Optional</text>
<rect x="1072" y="1169.5" width="336.3" height="170.5" fill="#e9eaea" stroke="#333" stroke-width="2"/>
<text transform="translate(1107.80,1227.30) scale(0.9100,1)" font-size="44.6" font-weight="bold" fill="#2b2a29" letter-spacing="-1.6" style="font-kerning:none;white-space:pre" xml:space="preserve" stroke="#2b2a29" stroke-width="0.6">CARAV </text>
<use href="#one_b" transform="translate(1254.65,1227.30) scale(0.01982,-0.02178)" fill="#2b2a29" stroke="#2b2a29" stroke-width="0.6"/>
<text transform="translate(1275.77,1227.30) scale(0.9100,1)" font-size="44.6" font-weight="bold" fill="#2b2a29" letter-spacing="-1.6" style="font-kerning:none;white-space:pre" xml:space="preserve" stroke="#2b2a29" stroke-width="0.6">2-2</text>
<use href="#one_b" transform="translate(1330.06,1227.30) scale(0.01982,-0.02178)" fill="#2b2a29" stroke="#2b2a29" stroke-width="0.6"/>
<text transform="translate(1351.17,1227.30) scale(0.9100,1)" font-size="44.6" font-weight="bold" fill="#2b2a29" letter-spacing="-1.6" style="font-kerning:none;white-space:pre" xml:space="preserve" stroke="#2b2a29" stroke-width="0.6">2</text>
<rect x="1209.1" y="1280" width="173.5" height="37.7" fill="#e21b36"/>
<text transform="translate(1248.3,1308.3) scale(1.07,1)" font-size="28.3" font-weight="bold" fill="#fff" letter-spacing="-2.6" stroke="#fff" stroke-width="0.7" style="font-kerning:none">CARAV</text>
</svg>
</body></html>
